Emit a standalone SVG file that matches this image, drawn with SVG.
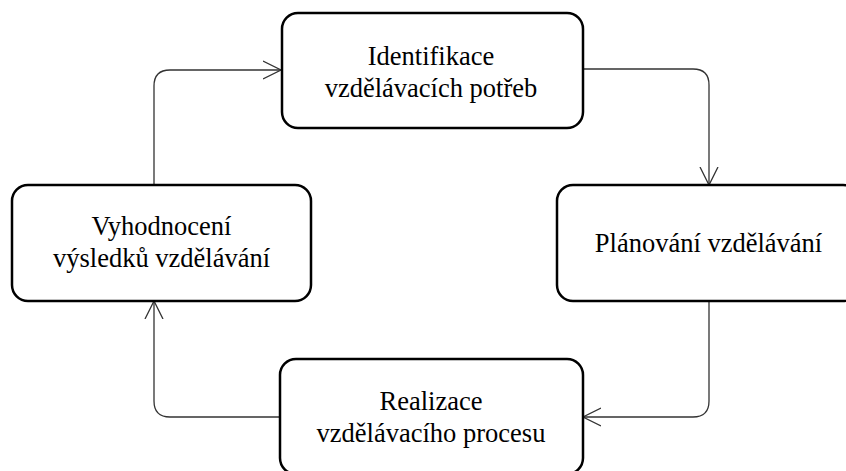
<svg xmlns="http://www.w3.org/2000/svg" width="846" height="471" viewBox="0 0 846 471">
<defs>
<style>
.box{fill:#fff;stroke:#000;stroke-width:2.5}
.lbl{font-size:26.5px;fill:#000;text-anchor:middle}
.conn{fill:none;stroke:#333;stroke-width:1.3}
</style>
<marker id="arr" markerWidth="20" markerHeight="20" refX="18" refY="10" orient="auto" markerUnits="userSpaceOnUse">
<path d="M0,1 L18,10 L0,19" fill="none" stroke="#333" stroke-width="1.3"/>
</marker>
</defs>
<rect width="846" height="471" fill="#fff"/>
<g id="connectors">
<path class="conn" d="M154,185 V86 Q154,70 170,70 H281" marker-end="url(#arr)"/>
<path class="conn" d="M583,69 H693 Q709,69 709,85 V185" marker-end="url(#arr)"/>
<path class="conn" d="M709,301 V401 Q709,417 693,417 H583" marker-end="url(#arr)"/>
<path class="conn" d="M280,417 H170 Q154,417 154,401 V301" marker-end="url(#arr)"/>
</g>
<g font-family="'Liberation Serif', 'Times New Roman', serif">
<g id="node-identifikace">
<rect class="box" x="282" y="13" width="301" height="115" rx="16"/>
<text class="lbl" x="431" y="65">Identifikace</text>
<text class="lbl" x="431" y="97">vzdělávacích potřeb</text>
</g>
<g id="node-planovani">
<rect class="box" x="557" y="185" width="302" height="116" rx="16"/>
<text class="lbl" x="708.5" y="252">Plánování vzdělávání</text>
</g>
<g id="node-realizace">
<rect class="box" x="280" y="359" width="303" height="115" rx="16"/>
<text class="lbl" x="431" y="410">Realizace</text>
<text class="lbl" x="431" y="442">vzdělávacího procesu</text>
</g>
<g id="node-vyhodnoceni">
<rect class="box" x="12" y="185" width="299" height="116" rx="16"/>
<text class="lbl" x="161.5" y="235">Vyhodnocení</text>
<text class="lbl" x="161.5" y="267">výsledků vzdělávání</text>
</g>
</g>
</svg>
